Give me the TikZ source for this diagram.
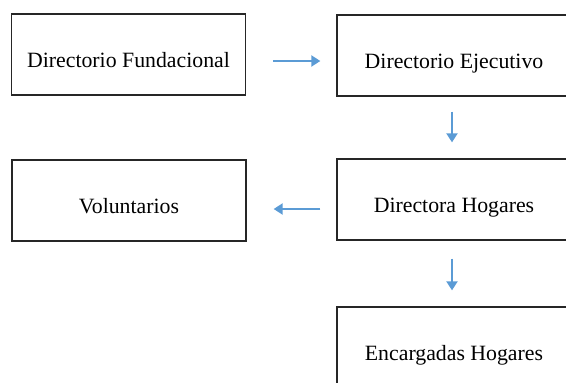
\documentclass[tikz,border=0pt]{standalone}
\usepackage{fontspec}
\setmainfont{Liberation Serif}
\usetikzlibrary{arrows.meta}
\definecolor{arrblue}{HTML}{5B9BD5}
\tikzset{
  orgbox/.style={draw=black!85, line width=1.3pt, rectangle, inner sep=0pt,
    minimum width=234pt, minimum height=81pt, text height=25pt, text depth=0pt,
    font=\fontsize{21.8}{26}\selectfont},
  arr/.style={draw=arrblue, line width=2pt, -{Triangle[length=9pt,width=11pt]}}
}
\begin{document}
\begin{tikzpicture}[x=1pt,y=-1pt]
\useasboundingbox (0,0) rectangle (566,383);
\clip (0,0) rectangle (566,383);
\node[orgbox] (fund) at (128.5,54.5) {Directorio Fundacional};
\node[orgbox] (ejec) at (454,55.5) {Directorio Ejecutivo};
\node[orgbox] (vol) at (129,200.5) {Voluntarios};
\node[orgbox] (dirh) at (454,199.5) {Directora Hogares};
\node[orgbox] (enc) at (454,347.5) {Encargadas Hogares};
\draw[arr, shorten <=27pt, shorten >=16pt] ([yshift=-6.5pt]fund.east) -- ([yshift=-5.5pt]ejec.west);
\draw[arr, shorten <=15pt, shorten >=16pt] ([xshift=-2pt]ejec.south) -- ([xshift=-2pt]dirh.north);
\draw[arr, shorten <=16pt, shorten >=27pt] ([yshift=-9.5pt]dirh.west) -- ([yshift=-8.5pt]vol.east);
\draw[arr, shorten <=18pt, shorten >=16pt] ([xshift=-2pt]dirh.south) -- ([xshift=-2pt]enc.north);
\end{tikzpicture}
\end{document}
